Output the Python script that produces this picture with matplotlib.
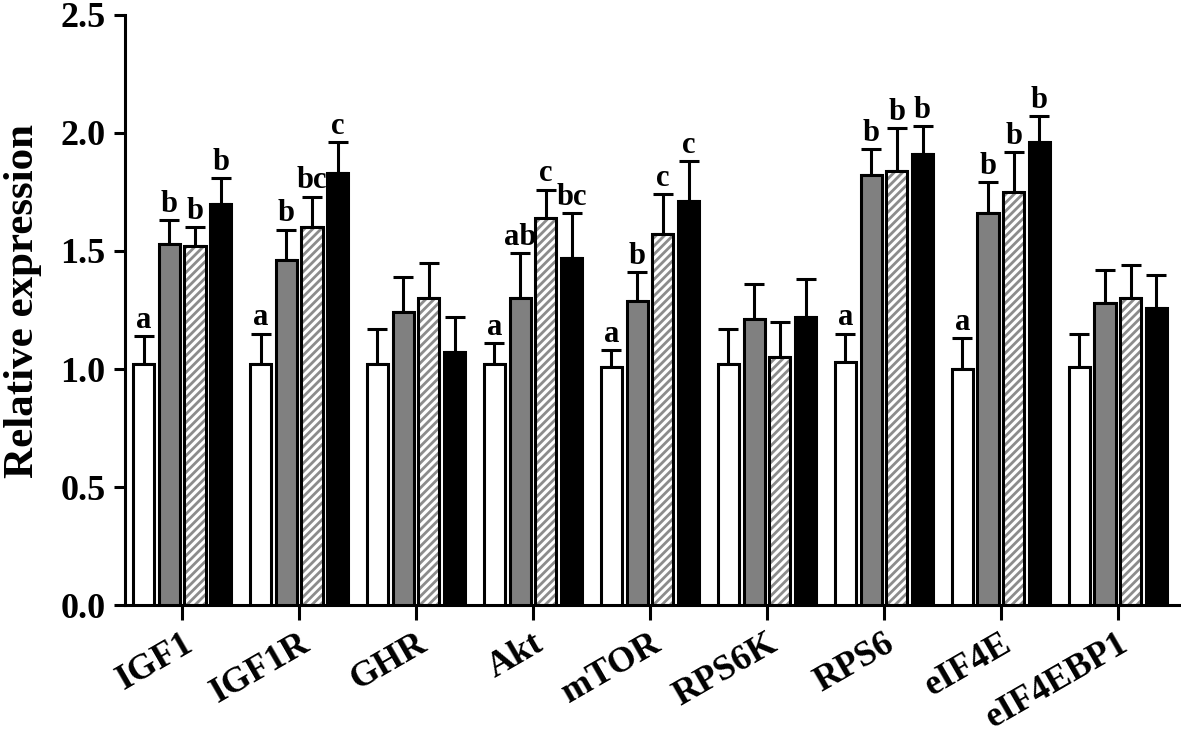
#!/usr/bin/env python3
import numpy as np
import matplotlib
matplotlib.use("Agg")
import matplotlib.pyplot as plt

genes = ["IGF1", "IGF1R", "GHR", "Akt", "mTOR", "RPS6K", "RPS6", "eIF4E", "eIF4EBP1"]

# mean values for the four groups (white, gray, hatched, black)
g1 = [1.02, 1.02, 1.02, 1.02, 1.01, 1.02, 1.03, 1.00, 1.01]
g2 = [1.53, 1.46, 1.24, 1.30, 1.29, 1.21, 1.82, 1.66, 1.28]
g3 = [1.52, 1.60, 1.30, 1.64, 1.57, 1.05, 1.84, 1.75, 1.30]
g4 = [1.70, 1.83, 1.07, 1.47, 1.71, 1.22, 1.91, 1.96, 1.26]

# upper error (SD)
e1 = [0.12, 0.13, 0.15, 0.09, 0.07, 0.15, 0.12, 0.13, 0.14]
e2 = [0.10, 0.13, 0.15, 0.19, 0.12, 0.15, 0.11, 0.13, 0.14]
e3 = [0.08, 0.13, 0.15, 0.12, 0.17, 0.15, 0.18, 0.17, 0.14]
e4 = [0.11, 0.13, 0.15, 0.19, 0.17, 0.16, 0.12, 0.11, 0.14]

# significance letters
l1 = ["a", "a", "", "a", "a", "", "a", "a", ""]
l2 = ["b", "b", "", "ab", "b", "", "b", "b", ""]
l3 = ["b", "bc", "", "c", "c", "", "b", "b", ""]
l4 = ["b", "c", "", "bc", "c", "", "b", "b", ""]

plt.rcParams["font.family"] = ["Liberation Serif", "DejaVu Serif"]
plt.rcParams["hatch.linewidth"] = 2.0

fig = plt.figure(figsize=(11.81, 7.38), dpi=100)
ax = fig.add_axes([0.106, 0.18, 0.894, 0.80])

x = np.arange(len(genes))
step = 0.22
width = 0.18
offsets = [-1.5 * step, -0.5 * step, 0.5 * step, 1.5 * step]
groups = [g1, g2, g3, g4]
errs = [e1, e2, e3, e4]
letters = [l1, l2, l3, l4]
faces = ["white", "#808080", "white", "black"]

for k in range(4):
    xs = x + offsets[k]
    if k == 2:
        # gray hatch inside, black outline on top
        ax.bar(xs, groups[k], width, color="white", edgecolor="#8c8c8c",
               hatch="////", linewidth=0, zorder=2)
        ax.bar(xs, groups[k], width, fill=False, edgecolor="black",
               linewidth=2.2, zorder=3)
    else:
        ax.bar(xs, groups[k], width, color=faces[k], edgecolor="black",
               linewidth=2.2, zorder=3)
    ax.errorbar(xs, groups[k], yerr=[np.zeros(len(genes)), errs[k]], fmt="none",
                ecolor="black", elinewidth=2.2, capsize=7, capthick=2.2, zorder=1)
    for xi, v, e, lab in zip(xs, groups[k], errs[k], letters[k]):
        if lab:
            ax.text(xi, v + e + 0.005, lab, ha="center", va="bottom",
                    fontsize=22, fontweight="bold")

ax.set_xlim(-0.487, 8.54)
ax.set_ylim(0, 2.5)
ax.set_yticks([0.0, 0.5, 1.0, 1.5, 2.0, 2.5])
ax.set_yticklabels(["0.0", "0.5", "1.0", "1.5", "2.0", "2.5"],
                   fontsize=26, fontweight="bold")
ax.set_xticks(x)
ax.set_xticklabels(genes, fontsize=26, fontweight="bold",
                   rotation=30, ha="right", va="top", rotation_mode="anchor")
ax.set_ylabel("Relative expression", fontsize=31, fontweight="bold")
ax.yaxis.set_label_coords(-0.079, 0.515)

for side in ["top", "right"]:
    ax.spines[side].set_visible(False)
for side in ["left", "bottom"]:
    ax.spines[side].set_linewidth(2.2)
ax.tick_params(axis="y", length=8, width=2.2, direction="out", pad=6)
ax.tick_params(axis="x", length=11, width=2.2, direction="out", pad=5)

fig.savefig("out.png", dpi=100)
plt.close(fig)
